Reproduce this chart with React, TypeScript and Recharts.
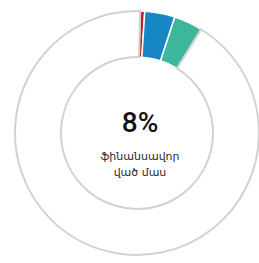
import { Cell, Pie, PieChart } from "recharts";

const segments = ["red", "blue", "teal", "rest"];
const shares = [0.6, 4, 3.8, 91.6];
const colors = ["#c4202b", "#1687c4", "#3db69d", "#ffffff"];
const centerValue = "8%";
const centerCaption = ["ֆինանսավոր", "ված մաս"];

const data = segments.map((name, i) => ({ name, value: shares[i] }));

const CX = 137;
const CY = 133;

export default function App() {
  return (
    <div style={{ position: "absolute", left: 0, top: 0, background: "#fff" }}>
      <PieChart width={259} height={263} margin={{ top: 0, right: 0, bottom: 0, left: 0 }}>
        <Pie
          data={data}
          dataKey="value"
          nameKey="name"
          cx={CX}
          cy={CY}
          innerRadius={76}
          outerRadius={122}
          startAngle={88.5}
          endAngle={-271.5}
          isAnimationActive={false}
        >
          {data.map((d, i) => (
            <Cell
              key={d.name}
              fill={colors[i]}
              stroke={d.name === "rest" ? "#d2d2d2" : "#ffffff"}
              strokeWidth={d.name === "rest" ? 2 : 1.5}
            />
          ))}
        </Pie>
      </PieChart>
      <svg
        width={259}
        height={263}
        style={{ position: "absolute", left: 0, top: 0, pointerEvents: "none" }}
      >
        <text
          x={CX + 3}
          y={CY - 1}
          textAnchor="middle"
          fontSize={28}
          fontWeight={500}
          fill="#111"
          fontFamily="Roboto, 'Liberation Sans', sans-serif"
        >
          {centerValue}
        </text>
        {centerCaption.map((line, i) => (
          <text
            key={line}
            x={CX + 3}
            y={CY + 27 + i * 16}
            textAnchor="middle"
            fontSize={11}
            fill="#2a2a2a"
            fontFamily="'DejaVu Sans', 'Noto Sans', sans-serif"
          >
            {line}
          </text>
        ))}
      </svg>
    </div>
  );
}
